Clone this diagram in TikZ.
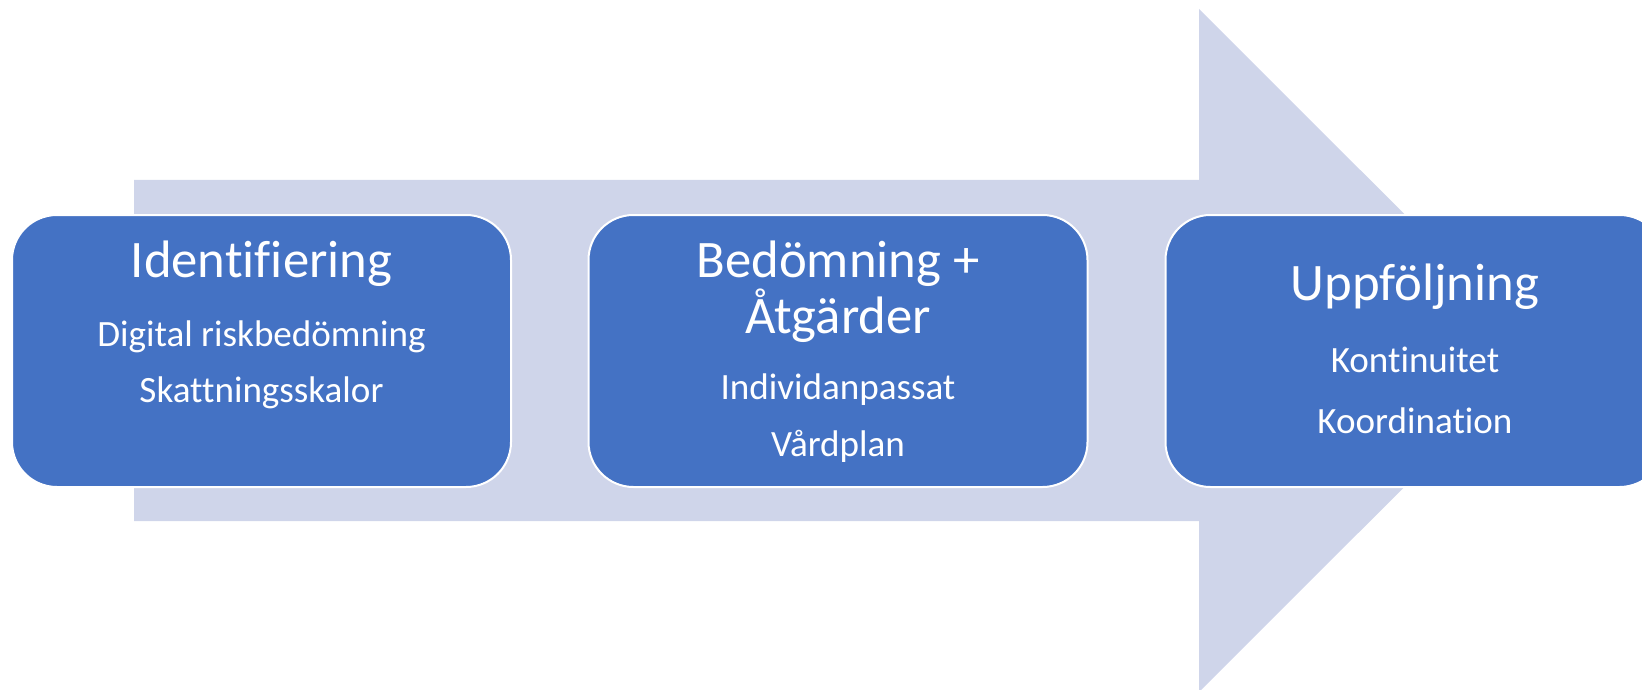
\documentclass[tikz,border=0pt]{standalone}
\usepackage{fontspec}
\setmainfont{Carlito}[Ligatures=NoCommon]
\definecolor{stepblue}{HTML}{4472C4}
\definecolor{flowtint}{HTML}{CFD5EA}
\tikzset{
  stepbox/.style={rectangle, rounded corners=45pt, fill=stepblue, draw=white,
    line width=2pt, minimum width=499pt, minimum height=272pt, inner sep=0pt},
  headline/.style={anchor=base, text=white, inner sep=0pt,
    font=\fontsize{52.7}{56}\selectfont},
  subline/.style={anchor=base, text=white, inner sep=0pt,
    font=\fontsize{37.1}{40}\selectfont},
}
\begin{document}
\begin{tikzpicture}[x=1pt,y=-1pt]
  \useasboundingbox (0,0) rectangle (1642,690);
  \clip (0,0) rectangle (1642,690);
  % broad background arrow
  \fill[flowtint] (134,180) -- (1199,180) -- (1199,9) -- (1541,350.5)
    -- (1199,692) -- (1199,521) -- (134,521) -- cycle;
  % the three stages
  \node[stepbox] (s1) at (261.5,351) {};
  \node[stepbox] (s2) at (838,351) {};
  \node[stepbox] (s3) at (1415,351) {};
  % stage 1
  \node[headline] (t1) at (261.5,277) {Identifiering};
  \node[subline] (a1) at (261.5,346) {Digital riskbedömning};
  \node[subline] (b1) at (261.5,402) {Skattningsskalor};
  % stage 2
  \node[headline] (t2) at (838,277) {Bedömning +};
  \node[headline] (u2) at (838,333) {Åtgärder};
  \node[subline] (a2) at (838,399) {Individanpassat};
  \node[subline] (b2) at (838,456) {Vårdplan};
  % stage 3
  \node[headline] (t3) at (1415,300) {Uppföljning};
  \node[subline] (a3) at (1415,372) {Kontinuitet};
  \node[subline] (b3) at (1415,433) {Koordination};
\end{tikzpicture}
\end{document}
